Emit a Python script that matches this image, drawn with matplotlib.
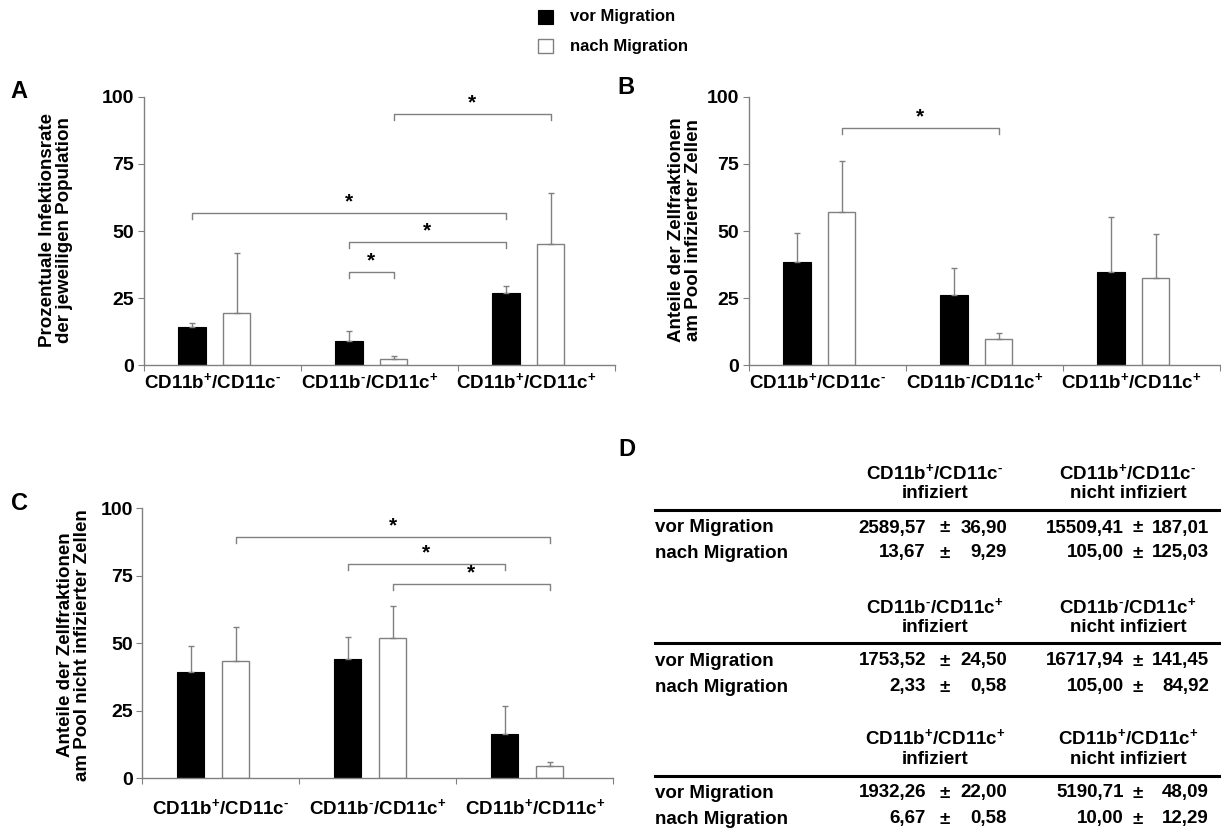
import matplotlib
matplotlib.use('Agg')
import matplotlib.pyplot as plt
from matplotlib.patches import Rectangle
from matplotlib.lines import Line2D

plt.rcParams['font.family'] = ['Liberation Sans', 'DejaVu Sans']
plt.rcParams['font.weight'] = 'bold'
plt.rcParams['mathtext.fontset'] = 'custom'
plt.rcParams['mathtext.rm'] = 'Liberation Sans:bold'
plt.rcParams['mathtext.it'] = 'Liberation Sans:bold'
plt.rcParams['mathtext.bf'] = 'Liberation Sans:bold'

W, H = 1221, 832
GRAY = '#808080'

categories = [r'CD11b$^{+}$/CD11c$^{\text{-}}$', r'CD11b$^{\text{-}}$/CD11c$^{+}$',
              r'CD11b$^{+}$/CD11c$^{+}$']
series = ['vor Migration', 'nach Migration']

# Panel A - Prozentuale Infektionsrate
a_vor = [14.1, 9.1, 27.0]
a_vor_err = [1.5, 3.7, 2.5]
a_nach = [19.4, 2.2, 45.0]
a_nach_err = [22.5, 1.3, 19.0]
# (cat1, series1, cat2, series2, y) ; series 0 = vor, 1 = nach
a_sig = [(1, 1, 2, 1, 93.4), (0, 0, 2, 0, 56.6), (1, 0, 2, 0, 46.0), (1, 0, 1, 1, 34.6)]

# Panel B - Anteile am Pool infizierter Zellen
b_vor = [38.5, 26.3, 34.7]
b_vor_err = [10.9, 9.9, 20.6]
b_nach = [57.2, 9.7, 32.4]
b_nach_err = [18.9, 2.2, 16.6]
b_sig = [(0, 1, 1, 1, 88.2)]

# Panel C - Anteile am Pool nicht infizierter Zellen
c_vor = [39.3, 44.3, 16.3]
c_vor_err = [9.8, 7.9, 10.6]
c_nach = [43.3, 51.9, 4.7]
c_nach_err = [12.9, 12.1, 1.5]
c_sig = [(0, 1, 2, 1, 89.3), (1, 0, 2, 0, 79.3), (1, 1, 2, 1, 72.0)]

# Panel D - Tabelle
d_inf_vor = [2589.57, 1753.52, 1932.26]
d_inf_vor_sd = [36.90, 24.50, 22.00]
d_inf_nach = [13.67, 2.33, 6.67]
d_inf_nach_sd = [9.29, 0.58, 0.58]
d_non_vor = [15509.41, 16717.94, 5190.71]
d_non_vor_sd = [187.01, 141.45, 48.09]
d_non_nach = [105.00, 105.00, 10.00]
d_non_nach_sd = [125.03, 84.92, 12.29]

offsets = [0.307, 0.593]
bar_w = 0.176


def fx(px):
    return px / W


def fy(py):
    return 1 - py / H


def draw_panel(ax, vor, vor_err, nach, nach_err, sig, label_pad, label_shift):
    x = list(range(3))
    xv = [i + offsets[0] for i in x]
    xn = [i + offsets[1] for i in x]
    ax.bar(xv, vor, width=bar_w, color='black', edgecolor='black', linewidth=0.8, zorder=2)
    ax.bar(xn, nach, width=bar_w, color='white', edgecolor=GRAY, linewidth=1.0, zorder=2)
    ax.errorbar(xv, vor, yerr=[[0] * 3, vor_err], fmt='none', ecolor=GRAY,
                elinewidth=1, capsize=2, capthick=1, zorder=3)
    ax.errorbar(xn, nach, yerr=[[0] * 3, nach_err], fmt='none', ecolor=GRAY,
                elinewidth=1, capsize=2, capthick=1, zorder=3)

    for c1, s1, c2, s2, y in sig:
        x1 = c1 + offsets[s1]
        x2 = c2 + offsets[s2]
        ax.plot([x1, x1, x2, x2], [y - 2.2, y, y, y - 2.2], color=GRAY, lw=1, clip_on=False)
        ax.text((x1 + x2) / 2, y + 0.6, '*', ha='center', va='bottom', fontsize=15)

    ax.set_xlim(0, 3)
    ax.set_ylim(0, 100)
    for s in ['top', 'right']:
        ax.spines[s].set_visible(False)
    for s in ['left', 'bottom']:
        ax.spines[s].set_color(GRAY)
        ax.spines[s].set_linewidth(1)
    ax.set_yticks([0, 25, 50, 75, 100])
    ax.tick_params(axis='y', length=4, color=GRAY, labelsize=14, pad=3)
    ax.set_xticks([0, 1, 2, 3])
    ax.set_xticklabels([])
    ax.tick_params(axis='x', which='major', length=4, color=GRAY)
    ax.set_xticks([i + 0.5 + label_shift for i in x], minor=True)
    ax.set_xticklabels(categories, minor=True)
    ax.tick_params(axis='x', which='minor', length=0, labelsize=13.5, pad=label_pad)
    for t in ax.get_yticklabels() + ax.get_xticklabels(minor=True):
        t.set_fontweight('bold')


fig = plt.figure(figsize=(W / 100, H / 100), dpi=100)

axA = fig.add_axes([fx(143.5), fy(365.3), fx(471), 268.6 / H])
draw_panel(axA, a_vor, a_vor_err, a_nach, a_nach_err, a_sig, 5, -0.06)
axB = fig.add_axes([fx(748.5), fy(365.3), fx(471), 268.6 / H])
draw_panel(axB, b_vor, b_vor_err, b_nach, b_nach_err, b_sig, 5, -0.06)
axC = fig.add_axes([fx(142.4), fy(778.3), fx(471), 270 / H])
draw_panel(axC, c_vor, c_vor_err, c_nach, c_nach_err, c_sig, 14, 0.0)

# y labels
fig.text(fx(56), fy(230), 'Prozentuale Infektionsrate\nder jeweiligen Population',
         rotation=90, ha='center', va='center', fontsize=13.5, linespacing=1.0)
fig.text(fx(685), fy(230), 'Anteile der Zellfraktionen\nam Pool infizierter Zellen',
         rotation=90, ha='center', va='center', fontsize=13.5, linespacing=1.0)
fig.text(fx(74), fy(645), 'Anteile der Zellfraktionen\nam Pool nicht infizierter Zellen',
         rotation=90, ha='center', va='center', fontsize=13.5, linespacing=1.0)

# panel letters
for letter, px, py in [('A', 10, 92), ('B', 617, 87), ('C', 11, 503), ('D', 618, 450)]:
    fig.text(fx(px), fy(py), letter, ha='left', va='center', fontsize=17)

# legend
fig.add_artist(Rectangle((fx(538), fy(24)), fx(15), 14 / H, transform=fig.transFigure,
                         facecolor='black', edgecolor='black', lw=0.8))
fig.add_artist(Rectangle((fx(538), fy(53)), fx(15), 14 / H, transform=fig.transFigure,
                         facecolor='white', edgecolor=GRAY, lw=1))
fig.text(fx(570), fy(17), series[0], ha='left', va='center', fontsize=12)
fig.text(fx(570), fy(47), series[1], ha='left', va='center', fontsize=12)


# table D
def fmt(v):
    return f'{v:.2f}'.replace('.', ',')


head_y = [473, 607, 738]
rule_y = [510, 643, 776]
row_y = [(528, 553), (661, 687), (793, 819)]
cols = [(935, 926, 945, 1007), (1128, 1124, 1138, 1209)]
fs = 13.5

for k in range(3):
    hy = head_y[k]
    for j, sub in enumerate(['infiziert', 'nicht infiziert']):
        cx = cols[j][0]
        fig.text(fx(cx), fy(hy), categories[k], ha='center', va='center', fontsize=fs)
        fig.text(fx(cx), fy(hy + 21), sub, ha='center', va='center', fontsize=fs)
    fig.add_artist(Line2D([fx(655), fx(1220)], [fy(rule_y[k]), fy(rule_y[k])],
                          transform=fig.transFigure, color='black', lw=2.2))
    vals = [
        [(d_inf_vor[k], d_inf_vor_sd[k]), (d_non_vor[k], d_non_vor_sd[k])],
        [(d_inf_nach[k], d_inf_nach_sd[k]), (d_non_nach[k], d_non_nach_sd[k])],
    ]
    for r in range(2):
        yy = row_y[k][r]
        fig.text(fx(655), fy(yy), series[r], ha='left', va='center', fontsize=fs)
        for j in range(2):
            m, sd = vals[r][j]
            _, lx, pmx, rx = cols[j]
            fig.text(fx(lx), fy(yy), fmt(m), ha='right', va='center', fontsize=fs)
            fig.text(fx(pmx), fy(yy), '\u00b1', ha='center', va='center', fontsize=fs)
            fig.text(fx(rx), fy(yy), fmt(sd), ha='right', va='center', fontsize=fs)

fig.savefig('out.png', dpi=100)
